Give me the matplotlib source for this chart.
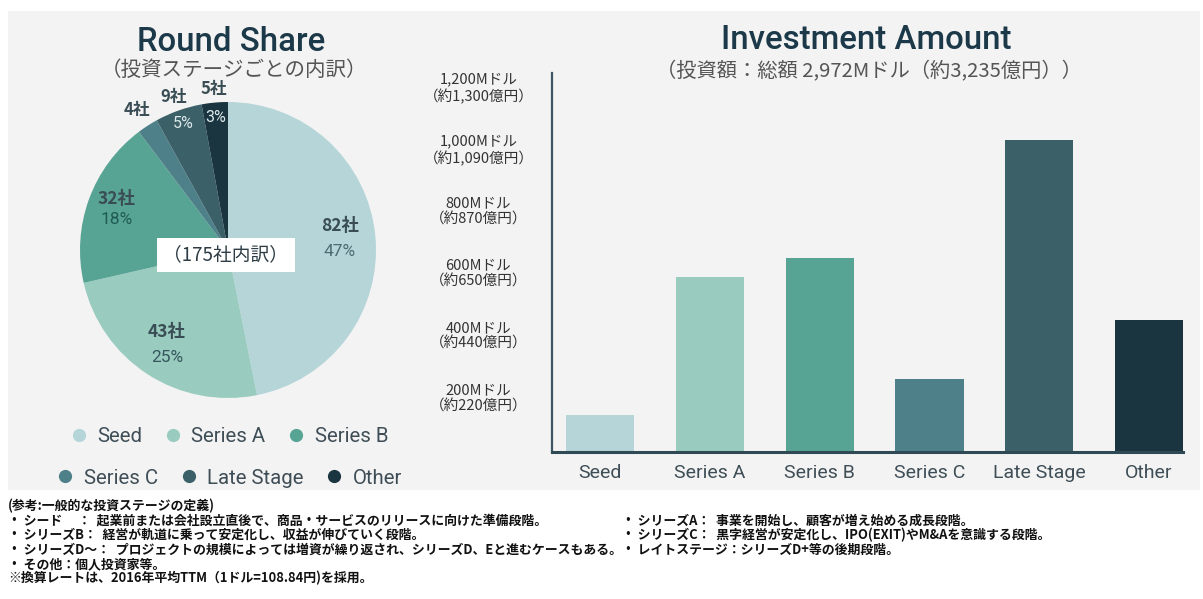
import matplotlib
matplotlib.use('Agg')
import matplotlib.pyplot as plt
from matplotlib.patches import Rectangle
from matplotlib.lines import Line2D
import matplotlib.transforms as mtransforms
import numpy as np

# ---------------- data ----------------
stages = ['Seed', 'Series A', 'Series B', 'Series C', 'Late Stage', 'Other']
companies = [82, 43, 32, 4, 9, 5]
investment_musd = [120, 563, 625, 235, 1005, 424]
ytick_values = [200, 400, 600, 800, 1000, 1200]
ytick_labels = ['200Mドル\n（約220億円）', '400Mドル\n（約440億円）',
                '600Mドル\n（約650億円）', '800Mドル\n（約870億円）',
                '1,000Mドル\n（約1,090億円）', '1,200Mドル\n（約1,300億円）']
show_pct = [True, True, True, False, True, True]
pie_title = 'Round Share'
pie_subtitle = '（投資ステージごとの内訳）'
bar_title = 'Investment Amount'
bar_subtitle = '（投資額：総額 2,972Mドル（約3,235億円））'
center_label = '（175社内訳）'
notes_left = ['(参考:一般的な投資ステージの定義)',
              '・ シード　 ：  起業前または会社設立直後で、商品・サービスのリリースに向けた準備段階。',
              '・ シリーズB：  経営が軌道に乗って安定化し、収益が伸びていく段階。',
              '・ シリーズD～：  プロジェクトの規模によっては増資が繰り返され、シリーズD、Eと進むケースもある。',
              '・ その他：個人投資家等。',
              '※換算レートは、2016年平均TTM（1ドル=108.84円)を採用。']
notes_right = ['・ シリーズA：  事業を開始し、顧客が増え始める成長段階。',
               '・ シリーズC：  黒字経営が安定化し、IPO(EXIT)やM&Aを意識する段階。',
               '・ レイトステージ：シリーズD+等の後期段階。']

# ---------------- style ----------------
colors = ['#b5d5d8', '#99cbbf', '#58a494', '#4d8089', '#3b6067', '#1b3540']
W, H = 1203, 599
DPI = 100
JP = ['Noto Sans CJK JP', 'DejaVu Sans']
EN = ['Roboto', 'Noto Sans CJK JP', 'DejaVu Sans']
title_color = '#1c3949'
text_color = '#3e4d56'

plt.rcParams['font.family'] = EN

fig = plt.figure(figsize=(W / DPI, H / DPI), dpi=DPI)
fig.patch.set_facecolor('white')


def fx(x):
    return x / W


def fy(y):
    return 1 - y / H


# grey panel
fig.patches.append(Rectangle((fx(8), fy(490)), (1200 - 8) / W, (490 - 11) / H,
                             transform=fig.transFigure, fc='#f3f3f3', ec='none', zorder=-10))

# ---------------- pie ----------------
cx, cy, R = 228, 250, 148
ax_p = fig.add_axes([fx(cx - R), fy(cy + R), 2 * R / W, 2 * R / H])
ax_p.set_facecolor('none')
ax_p.pie(companies, colors=colors, startangle=90, counterclock=False, radius=1,
         wedgeprops=dict(linewidth=0))
ax_p.set_xlim(-1, 1)
ax_p.set_ylim(-1, 1)
ax_p.set_aspect('equal')
ax_p.axis('off')

total = sum(companies)
fr = np.array(companies) / total
cum = np.cumsum(fr) - fr / 2
mid_theta = np.deg2rad(90 - 360 * cum)

inner_r = [0.76, 0.76, 0.80, 0.80, 0.91, 0.90]
outer_r = [None, None, None, 1.13, 1.10, 1.09]
pct_colors = ['#4c6b72', '#35575c', '#1f5a54', '#dce9eb', '#dce9eb', '#dce9eb']
for i, c in enumerate(companies):
    pct = f'{round(100 * c / total)}%'
    t = mid_theta[i]
    if outer_r[i] is None:
        r = inner_r[i]
        x, y = r * np.cos(t), r * np.sin(t)
        gap = 0.085 if i != 2 else 0.068
        ax_p.text(x, y + gap, f'{c}社', ha='center', va='center', fontsize=12.5,
                  color='#3a4d55', fontweight='bold', family=JP)
        ax_p.text(x, y - gap, pct, ha='center', va='center', fontsize=12.5,
                  color=pct_colors[i], family=EN)
    else:
        r = outer_r[i]
        ax_p.text(r * np.cos(t), r * np.sin(t), f'{c}社', ha='center', va='center',
                  fontsize=12, color='#3a4d55', fontweight='bold', family=JP)
        if show_pct[i]:
            r = inner_r[i]
            ax_p.text(r * np.cos(t), r * np.sin(t), pct, ha='center', va='center',
                      fontsize=11.5, color=pct_colors[i], family=EN)

fig.text(fx(226), fy(255), center_label, ha='center', va='center', fontsize=13.5,
         color='#2e3d45', family=JP,
         bbox=dict(boxstyle='square,pad=0.35', fc='white', ec='none'))

fig.text(fx(231), fy(42), pie_title, ha='center', va='center', fontsize=23.8,
         color=title_color, fontweight='medium', family=EN)
fig.text(fx(234), fy(70), pie_subtitle, ha='center', va='center', fontsize=14.8,
         color='#555555', family=JP)

# legend rows
def legend_row(idx, y):
    handles = [Line2D([], [], marker='o', ls='none', markersize=9.5,
                      markerfacecolor=colors[i], markeredgecolor='none') for i in idx]
    leg = fig.legend(handles, [stages[i] for i in idx], loc='center',
                     bbox_to_anchor=(fx(230), fy(y)), ncol=3, frameon=False,
                     fontsize=14.7, handlelength=0.7, handletextpad=0.55,
                     columnspacing=1.15, borderpad=0, borderaxespad=0)
    for t in leg.get_texts():
        t.set_color(text_color)
        t.set_family(EN)
    return leg

legend_row([0, 1, 2], 437)
legend_row([3, 4, 5], 478)

# ---------------- bars ----------------
bx0, bx1, by_top, by_bot = 552, 1183, 73, 452
ax_b = fig.add_axes([fx(bx0), fy(by_bot), (bx1 - bx0) / W, (by_bot - by_top) / H])
ax_b.set_facecolor('none')
xpos = np.arange(len(stages))
ax_b.bar(xpos, investment_musd, width=0.62, color=colors)
ax_b.set_xlim(-0.44, 5.31)
ax_b.set_ylim(0, 1220)
for s in ['top', 'right']:
    ax_b.spines[s].set_visible(False)
ax_b.spines['left'].set_color('#3c5560')
ax_b.spines['left'].set_linewidth(1.6)
ax_b.spines['bottom'].set_color('#2f4a55')
ax_b.spines['bottom'].set_linewidth(2.2)
ax_b.set_xticks(xpos)
ax_b.set_xticklabels(stages, fontsize=14, color=text_color, family=EN)
ax_b.tick_params(axis='x', length=0, pad=9)
ax_b.set_yticks(ytick_values)
ax_b.set_yticklabels(ytick_labels, fontsize=10.5, color='#333333', family=JP)
ax_b.tick_params(axis='y', length=0, pad=53)
offset = mtransforms.ScaledTranslation(0, 5 / 72, fig.dpi_scale_trans)
for lab in ax_b.get_yticklabels():
    lab.set_ha('center')
    lab.set_va('top')
    lab.set_linespacing(1.2)
    lab.set_transform(lab.get_transform() + offset)

fig.text(fx(866), fy(40), bar_title, ha='center', va='center', fontsize=23.8,
         color=title_color, fontweight='medium', family=EN)
fig.text(fx(869), fy(72), bar_subtitle, ha='center', va='center', fontsize=14.6,
         color='#555555', family=JP)

# ---------------- notes ----------------
left_y = [506, 521, 535, 550, 564, 578]
for t, y in zip(notes_left, left_y):
    fig.text(fx(8), fy(y), t, ha='left', va='center', fontsize=9.3,
             color='#111111', family=JP, fontweight='bold')
right_y = [521, 535, 550]
for t, y in zip(notes_right, right_y):
    fig.text(fx(622), fy(y), t, ha='left', va='center', fontsize=9.3,
             color='#111111', family=JP, fontweight='bold')

fig.savefig('out.png', dpi=DPI, facecolor='white')
